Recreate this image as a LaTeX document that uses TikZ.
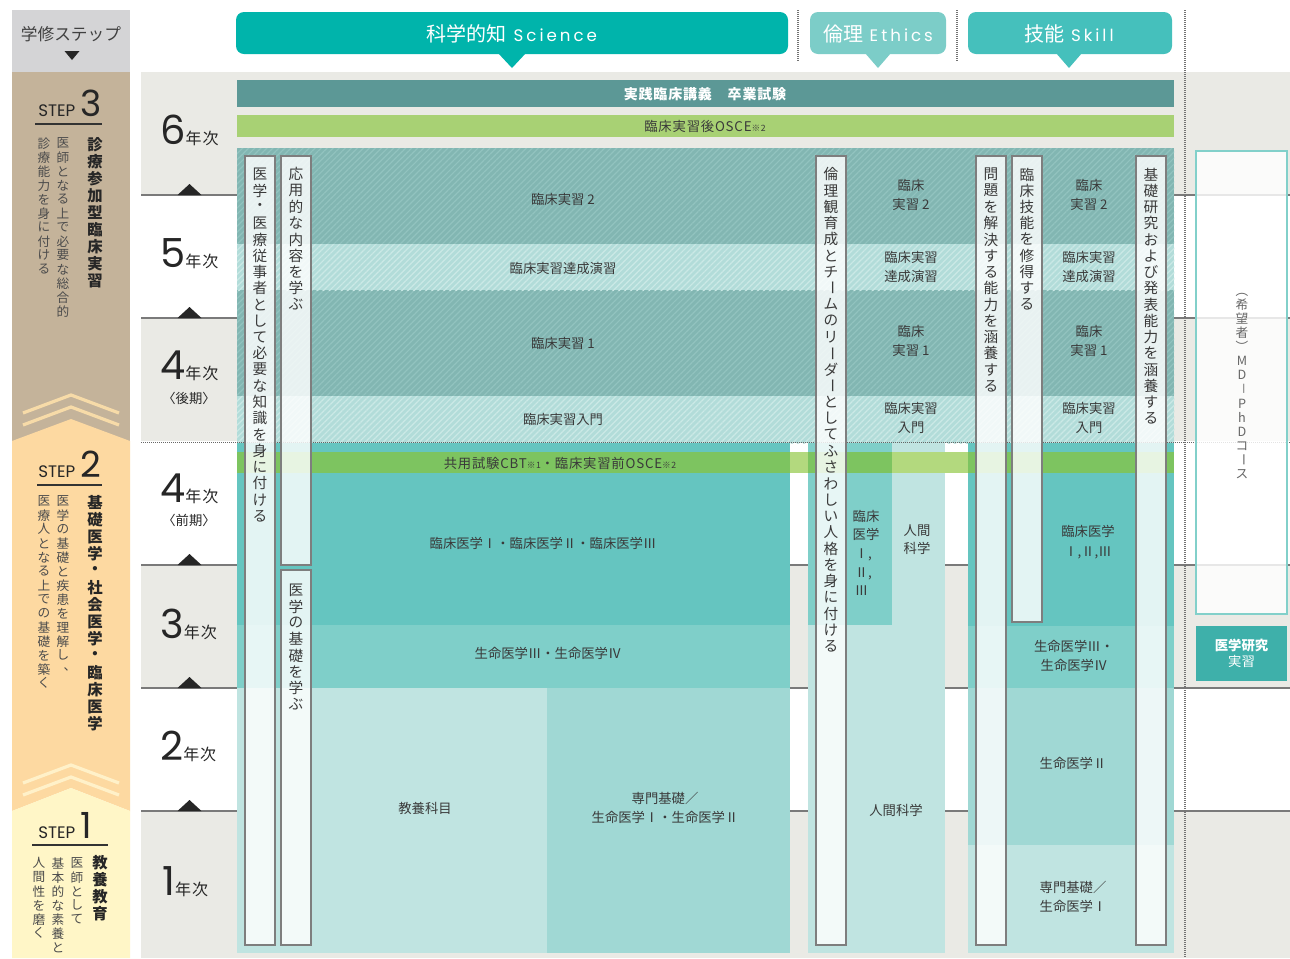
\documentclass[tikz,border=0pt]{standalone}
\usepackage{fontspec}
\usepackage{graphicx}
\setmainfont{Noto Sans CJK JP}
\newfontfamily\pop{Poppins}
\newfontfamily\popsp{Poppins}[LetterSpace=18]
\newfontfamily\jpsp{Noto Sans CJK JP}[LetterSpace=6]
\usetikzlibrary{patterns.meta}

\definecolor{bggray}{HTML}{EAEAE5}
\definecolor{hdrgray}{HTML}{D4D4D6}
\definecolor{tanc}{HTML}{C4B39A}
\definecolor{orng}{HTML}{FDD9A1}
\definecolor{ylw}{HTML}{FFF6C7}
\definecolor{chevA}{HTML}{F7DBA8}
\definecolor{chevB}{HTML}{FFF1C9}
\definecolor{sci}{HTML}{00B4AB}
\definecolor{eth}{HTML}{7CCDC8}
\definecolor{skl}{HTML}{45C0BC}
\definecolor{barA}{HTML}{5C9896}
\definecolor{barB}{HTML}{A8D174}
\definecolor{hatchD}{HTML}{82B6B2}
\definecolor{hatchDs}{HTML}{92C3BF}
\definecolor{hatchL}{HTML}{B2DCD9}
\definecolor{hatchLs}{HTML}{CBE9E6}
\definecolor{tealA}{HTML}{65C5C0}
\definecolor{tealB}{HTML}{7FCFC9}
\definecolor{tealC}{HTML}{A0D8D4}
\definecolor{tealD}{HTML}{C0E4E1}
\definecolor{grn}{HTML}{7DC460}
\definecolor{grnL}{HTML}{B3D97E}
\definecolor{rline}{HTML}{7A7A7A}
\definecolor{txt}{HTML}{3A3A3A}
\definecolor{boxline}{HTML}{7E7E7E}
\definecolor{mdline}{HTML}{82D0CA}
\definecolor{resbox}{HTML}{3EB0AA}

% vertical (tategaki) text
\newdimen\vpitch
\def\vtend{}
\def\vbx#1{\hbox to 1em{\hss\vbox to\vpitch{\vss\hbox{#1}\vss}\hss}}
\def\vtone#1{%
  \ifx#1ー\vbx{\rotatebox[origin=c]{-90}{ー}}\else
  \ifx#1（\vbx{\rotatebox[origin=c]{-90}{（}}\else
  \ifx#1）\vbx{\rotatebox[origin=c]{-90}{）}}\else
  \ifx#1－\vbx{\rotatebox[origin=c]{-90}{－}}\else
  \ifx#1、\vbx{\hbox to 1em{\kern.55em\rlap{、}\hss}}\else
  \vbx{#1}\fi\fi\fi\fi\fi}
\def\vtloop#1{\ifx#1\vtend\else\vtone#1\expandafter\vtloop\fi}
\newcommand\vtext[2]{\vpitch=#1\relax\vbox{\offinterlineskip\vtloop#2\vtend}}

\newcommand\yrn{\pop\fontsize{30}{30}\selectfont}
\newcommand\yrj{\jpsp\fontsize{12}{12}\selectfont}

\tikzset{
  vbxs/.style={draw=boxline, fill=white, fill opacity=0.82, line width=1.1pt},
  vt/.style={anchor=north, inner sep=0, text=txt},
  ct/.style={inner sep=0, text=txt, align=center, font=\fontsize{10}{14.5}\selectfont},
  rowline/.style={rline, line width=1.5pt},
  dotl/.style={black!55, line width=1pt, dash pattern=on 0.75pt off 0.75pt},
  hatchdark/.style={pattern={Lines[angle=45,distance=3.2pt,line width=0.9pt]}, pattern color=hatchDs},
  hatchlight/.style={pattern={Lines[angle=45,distance=3.2pt,line width=0.9pt]}, pattern color=hatchLs},
  yr/.style={anchor=base west, inner sep=0, text=black!85},
  term/.style={text=black!85, inner sep=0, font=\fontsize{10}{10}\selectfont},
}

\begin{document}
\begin{tikzpicture}[x=0.75pt,y=-0.75pt]
\useasboundingbox (0,0) rectangle (1290,958);
\fill[white] (0,0) rectangle (1290,958);

% ---------- background rows ----------
\fill[bggray] (141,72) rectangle (1290,958);
\foreach \a/\b in {195/318,441/565,688/811} \fill[white] (141,\a) rectangle (1290,\b);
\foreach \yy in {195,318,565,688,811} {
  \draw[rowline] (141,\yy) -- (1290,\yy);
  \fill[black!85] (177.5,\yy) -- (201.5,\yy) -- (189.5,\yy-11) -- cycle;
}

% ---------- step column ----------
\fill[hdrgray] (12,10) rectangle (130,72);
\node[text=black!75] (hstep) at (71,34) {\fontsize{12.5}{13}\selectfont 学修ステップ};
\fill[black!85] (64.5,51) -- (79.5,51) -- (72,60) -- cycle;

\fill[tanc] (12,72) rectangle (130,441);
\fill[orng] (12,441) -- (71,419) -- (130,441) -- (130,811) -- (71,788) -- (12,811) -- cycle;
\fill[ylw] (12,811) -- (71,788) -- (130,811) -- (130,958) -- (12,958) -- cycle;
\draw[chevA, line width=2.4pt] (23,413) -- (71,395) -- (119,413);
\draw[chevA, line width=2.4pt] (23,425) -- (71,407) -- (119,425);
\draw[chevB, line width=2.4pt] (23,783) -- (71,765) -- (119,783);
\draw[chevB, line width=2.4pt] (23,795) -- (71,777) -- (119,795);

\node[anchor=base west, inner sep=0, text=black!85] (st3) at (38,116) {\pop\fontsize{12.5}{13}\selectfont STEP\hspace{4pt}\fontsize{27}{27}\selectfont 3};
\draw[black!80, line width=1.1pt] (35,124) -- (102,124);
\node[anchor=base west, inner sep=0, text=black!85] (st2) at (38,477) {\pop\fontsize{12.5}{13}\selectfont STEP\hspace{4pt}\fontsize{27}{27}\selectfont 2};
\draw[black!80, line width=1.1pt] (37,485) -- (102,485);
\node[anchor=base west, inner sep=0, text=black!85] (st1) at (38,838) {\pop\fontsize{12.5}{13}\selectfont STEP\hspace{4pt}\fontsize{27}{27}\selectfont 1};
\draw[black!80, line width=1.1pt] (32,845) -- (108,845);

\node[vt, text=black!85] (s3a) at (95,136) {\fontsize{11.5}{12}\selectfont\bfseries\vtext{12.75pt}{診療参加型臨床実習}};
\node[vt, text=black!70] (s3b) at (63,136) {\fontsize{9.5}{10}\selectfont\vtext{10.5pt}{医師となる上で必要な総合的}};
\node[vt, text=black!70] (s3c) at (44,136) {\fontsize{9.5}{10}\selectfont\vtext{10.5pt}{診療能力を身に付ける}};

\node[vt, text=black!85] (s2a) at (95,494) {\fontsize{11.5}{12}\selectfont\bfseries\vtext{12.75pt}{基礎医学・社会医学・臨床医学}};
\node[vt, text=black!70] (s2b) at (63,494) {\fontsize{9.5}{10}\selectfont\vtext{10.5pt}{医学の基礎と疾患を理解し、}};
\node[vt, text=black!70] (s2c) at (44,494) {\fontsize{9.5}{10}\selectfont\vtext{10.5pt}{医療人となる上での基礎を築く}};

\node[vt, text=black!85] (s1a) at (100,854) {\fontsize{11.5}{12}\selectfont\bfseries\vtext{12.75pt}{教養教育}};
\node[vt, text=black!70] (s1b) at (77,856) {\fontsize{9.5}{10}\selectfont\vtext{10.5pt}{医師として}};
\node[vt, text=black!70] (s1c) at (58,856) {\fontsize{9.5}{10}\selectfont\vtext{10.5pt}{基本的な素養と}};
\node[vt, text=black!70] (s1d) at (39,856) {\fontsize{9.5}{10}\selectfont\vtext{10.5pt}{人間性を磨く}};

% ---------- year labels ----------
\node[yr] (y6) at (160,144) {\yrn 6\yrj 年次};
\node[yr] (y5) at (160,267) {\yrn 5\yrj 年次};
\node[yr] (y4b) at (160,379) {\yrn 4\yrj 年次};
\node[term] (y4bs) at (189,398) {〈後期〉};
\node[yr] (y4a) at (160,502) {\yrn 4\yrj 年次};
\node[term] (y4as) at (189,520) {〈前期〉};
\node[yr] (y3) at (160,638) {\yrn 3\yrj 年次};
\node[yr] (y2) at (160,760) {\yrn 2\yrj 年次};
\node[yr] (y1) at (162,895) {\yrn 1\yrj 年次};

% ---------- header bubbles ----------
\fill[sci, rounded corners=6pt] (236,12) rectangle (788,54);
\fill[sci] (498,53) -- (526,53) -- (512,68) -- cycle;
\node[text=white] (hsci) at (512,34) {\fontsize{15}{15}\selectfont 科学的知\hspace{5pt}{\popsp\fontsize{12.5}{13}\selectfont Science}};
\fill[eth, rounded corners=6pt] (810,12) rectangle (946,54);
\fill[eth] (865,53) -- (891,53) -- (878,68) -- cycle;
\node[text=white] (heth) at (878,34) {\fontsize{15}{15}\selectfont 倫理\hspace{5pt}{\popsp\fontsize{12.5}{13}\selectfont Ethics}};
\fill[skl, rounded corners=6pt] (968,12) rectangle (1172,54);
\fill[skl] (1056,53) -- (1082,53) -- (1069,68) -- cycle;
\node[text=white] (hskl) at (1069,34) {\fontsize{15}{15}\selectfont 技能\hspace{5pt}{\popsp\fontsize{12.5}{13}\selectfont Skill}};
\draw[dotl] (798,10) -- (798,62);
\draw[dotl] (957,10) -- (957,62);
\draw[dotl] (1185,10) -- (1185,958);

% ---------- top bars ----------
\fill[barA] (237,80) rectangle (1174,107);
\node[text=white] (bar1) at (705,94) {\jpsp\fontsize{10.5}{11}\selectfont\bfseries 実践臨床講義　卒業試験};
\fill[barB] (237,115) rectangle (1174,137);
\node[text=txt] (bar2) at (705,126) {\jpsp\fontsize{10}{10}\selectfont 臨床実習後OSCE{\fontsize{6.5}{6.5}\selectfont ※2}};

% ---------- hatched clinical area ----------
\fill[hatchD] (237,148) rectangle (1174,443);
\fill[hatchdark] (237,148) rectangle (1174,443);
\fill[hatchL] (237,244) rectangle (1174,290);
\fill[hatchlight] (237,244) rectangle (1174,290);
\fill[hatchL] (237,396) rectangle (1174,443);
\fill[hatchlight] (237,396) rectangle (1174,443);

% ---------- lower blocks ----------
\fill[tealA] (237,443) rectangle (790,625);
\fill[tealB] (237,625) rectangle (790,688);
\fill[tealD] (237,688) rectangle (547,953);
\fill[tealC] (547,688) rectangle (790,953);
\fill[tealD] (808,443) rectangle (945,953);
\fill[tealB] (808,443) rectangle (892,625);
\fill[tealA] (968,443) rectangle (1174,626);
\fill[tealB] (968,626) rectangle (1174,688);
\fill[tealC] (968,688) rectangle (1174,845);
\fill[tealD] (968,845) rectangle (1174,953);

% ---------- CBT bar ----------
\fill[grn] (237,452) rectangle (1174,473);
\fill[grnL] (790,452) rectangle (808,473);
\fill[grnL] (892,452) rectangle (968,473);
\node[text=txt] (cbt) at (560,463) {\jpsp\fontsize{10}{10}\selectfont 共用試験CBT{\fontsize{6.5}{6.5}\selectfont ※1}・臨床実習前OSCE{\fontsize{6.5}{6.5}\selectfont ※2}};
\draw[black!60, line width=0.6pt, dash pattern=on 0.75pt off 0.75pt] (141,442) -- (1290,442);

% ---------- vertical boxes ----------
\draw[vbxs] (245,156) rectangle (275,945);
\draw[vbxs] (281,156) rectangle (311,565);
\draw[vbxs] (281,570) rectangle (311,945);
\draw[vbxs] (816,156) rectangle (846,945);
\draw[vbxs] (976,156) rectangle (1006,945);
\draw[vbxs] (1012,156) rectangle (1042,622);
\draw[vbxs] (1136,156) rectangle (1166,945);

\node[vt] (vA) at (260,166) {\fontsize{11}{12}\selectfont\vtext{12.2pt}{医学・医療従事者として必要な知識を身に付ける}};
\node[vt] (vB) at (296,166) {\fontsize{11}{12}\selectfont\vtext{12.2pt}{応用的な内容を学ぶ}};
\node[vt] (vC) at (296,582) {\fontsize{11}{12}\selectfont\vtext{12.2pt}{医学の基礎を学ぶ}};
\node[vt] (vD) at (831,166) {\fontsize{11}{12}\selectfont\vtext{12.2pt}{倫理観育成とチームのリーダーとしてふさわしい人格を身に付ける}};
\node[vt] (vE) at (991,166) {\fontsize{11}{12}\selectfont\vtext{12.2pt}{問題を解決する能力を涵養する}};
\node[vt] (vF) at (1027,166) {\fontsize{11}{12}\selectfont\vtext{12.2pt}{臨床技能を修得する}};
\node[vt] (vG) at (1151,166) {\fontsize{11}{12}\selectfont\vtext{12.2pt}{基礎研究および発表能力を涵養する}};

% ---------- column texts: clinical ----------
\node[ct] (c2) at (563,199) {臨床実習 2};
\node[ct] (cT) at (563,268) {臨床実習達成演習};
\node[ct] (c1) at (563,343) {臨床実習 1};
\node[ct] (cI) at (563,419) {臨床実習入門};
\node[ct] (e2) at (911,195) {臨床\\実習 2};
\node[ct] (eT) at (911,267) {臨床実習\\達成演習};
\node[ct] (e1) at (911,341) {臨床\\実習 1};
\node[ct] (eI) at (911,418) {臨床実習\\入門};
\node[ct] (k2) at (1089,195) {臨床\\実習 2};
\node[ct] (kT) at (1089,267) {臨床実習\\達成演習};
\node[ct] (k1) at (1089,341) {臨床\\実習 1};
\node[ct] (kI) at (1089,418) {臨床実習\\入門};

% ---------- column texts: lower ----------
\node[ct] (l1) at (543,543) {臨床医学Ⅰ・臨床医学Ⅱ・臨床医学Ⅲ};
\node[ct] (l2) at (548,653) {生命医学Ⅲ・生命医学Ⅳ};
\node[ct] (l3) at (425,808) {教養科目};
\node[ct] (l4) at (665,808) {専門基礎／\\生命医学Ⅰ・生命医学Ⅱ};
\node[ct, align=left, font=\fontsize{10}{14}\selectfont] (m1) at (866,553) {臨床\\医学\\\,Ⅰ,\\\,Ⅱ,\\\,Ⅲ};
\node[ct, font=\fontsize{10}{13.5}\selectfont] (m2) at (917,540) {人間\\科学};
\node[ct] (m3) at (896,810) {人間科学};
\node[ct] (n1) at (1088,542) {臨床医学\\Ⅰ,Ⅱ,Ⅲ};
\node[ct] (n2) at (1074,656) {生命医学Ⅲ・\\生命医学Ⅳ};
\node[ct] (n3) at (1073,763) {生命医学Ⅱ};
\node[ct, align=left] (n4) at (1073,897) {専門基礎／\\生命医学Ⅰ};

% ---------- right side ----------
\draw[mdline, line width=1.2pt, fill=white, fill opacity=0.82] (1196,151) rectangle (1287,614);
\node[vt, text=black!60] (mdphd) at (1242,283) {\fontsize{9.5}{10}\selectfont\vtext{10.6pt}{（希望者）MD－PhDコース}};
\fill[resbox] (1196,626) rectangle (1287,681);
\node[text=white, align=center, inner sep=0] (res) at (1241.5,653.5) {\fontsize{10}{14}\selectfont\bfseries 医学研究\\実習};
\end{tikzpicture}
\end{document}
